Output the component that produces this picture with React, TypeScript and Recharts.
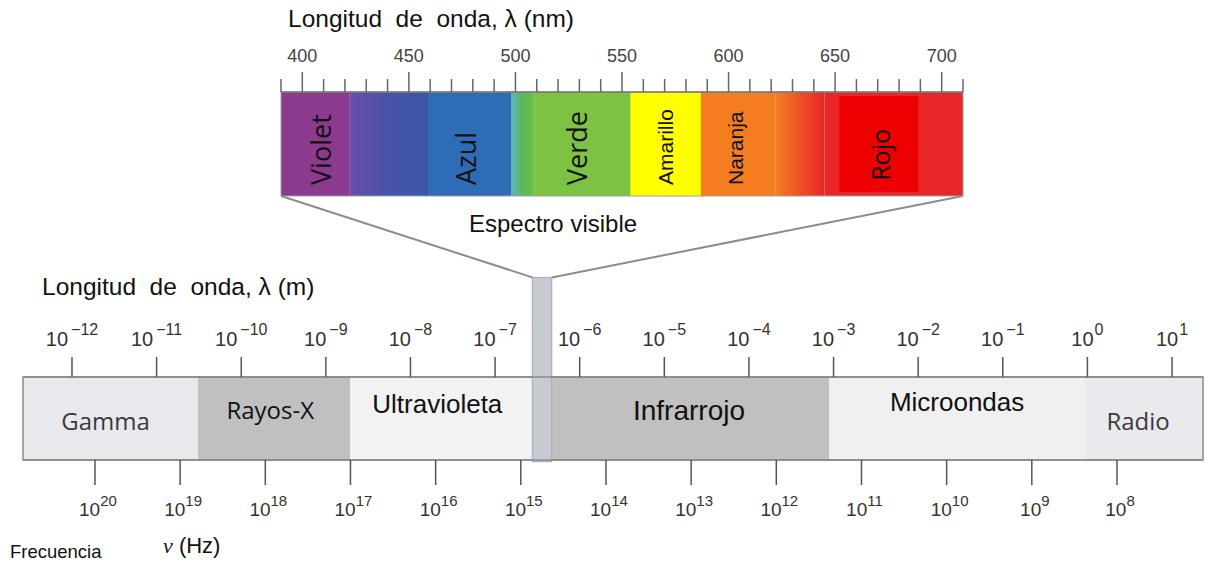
import React from "react";
import { ComposedChart, XAxis, YAxis, ReferenceArea, ReferenceLine, Scatter } from "recharts";

// Espectro electromagnético con ampliación del espectro visible.

// --- espectro visible (nm) ---
const nmTicks = [390, 400, 410, 420, 430, 440, 450, 460, 470, 480, 490, 500, 510, 520, 530, 540, 550, 560, 570, 580, 590, 600, 610, 620, 630, 640, 650, 660, 670, 680, 690, 700, 710];
const nmLabeled = [400, 450, 500, 550, 600, 650, 700];
const specEdges = [390, 422, 459, 498, 509, 554, 587, 622, 645, 710];
const specNames = ["Violet", "Azul", "Verde", "Amarillo", "Naranja", "Rojo"];
const specFrom = [390, 459, 509, 554, 587, 652];
const specTo = [422, 498, 554, 587, 622, 689];

// --- bandas, en log10(λ / m) ---
const bandNames = ["Gamma", "Rayos-X", "Ultravioleta", "Infrarrojo", "Microondas", "Radio"];
const bandFrom = [-12.58, -10.51, -8.71, -6.39, -3.05, -0.03];
const bandTo = [-10.51, -8.71, -6.49, -3.05, -0.03, 1.37];
const visibleLog = [-6.56, -6.33];
const wlTicks = [-12, -11, -10, -9, -8, -7, -6, -5, -4, -3, -2, -1, 0, 1];
// frecuencia, en log10(ν / Hz)
const freqTicks = [20, 19, 18, 17, 16, 15, 14, 13, 12, 11, 10, 9, 8];

// --- layout / estilos ---
const W = 1209;
const H = 565;
const SANS = "'Liberation Sans', Arial, sans-serif";
const OPEN = "'Open Sans', sans-serif";

const S_MARGIN = { top: 52, left: 281, right: 246, bottom: 369 };
const B_MARGIN = { top: 337, left: 23, right: 6, bottom: 45 };
const WL_DOMAIN: [number, number] = [-12.579, 1.366];
const FQ_DOMAIN: [number, number] = [6.99, 20.845];
const COLUMN_TOP = 2.2;

const segPaint = ["#8b3a8e", "url(#gVB)", "#2e6cb5", "url(#gBG)", "#7dc242", "#ffff00", "#f47d20", "url(#gOR)", "#e8262a"];
const specPaint: Record<string, string> = {
  Violet: "#8b3a8e",
  Azul: "#2e6cb5",
  Verde: "#7dc242",
  Amarillo: "#ffff00",
  Naranja: "#f47d20",
  Rojo: "#ee0000",
};
const specText: Record<string, { font: string; size: number; dx: number }> = {
  Violet: { font: OPEN, size: 27, dx: 5 },
  Azul: { font: OPEN, size: 27, dx: -4 },
  Verde: { font: OPEN, size: 27, dx: -6 },
  Amarillo: { font: SANS, size: 21, dx: 0 },
  Naranja: { font: SANS, size: 21, dx: -3 },
  Rojo: { font: OPEN, size: 25, dx: 1 },
};

const bandFill = ["#e9e9ed", "#c0c0c0", "#f2f2f2", "#c0c0c0", "#f0f0f0", "#e9e9ee"];
const bandText: Record<string, { font: string; size: number; color: string; dx: number; cy: number }> = {
  Gamma: { font: OPEN, size: 24, color: "#3a3a3a", dx: -5, cy: 45 },
  "Rayos-X": { font: OPEN, size: 24, color: "#111", dx: -4, cy: 34 },
  Ultravioleta: { font: SANS, size: 26, color: "#111", dx: -7, cy: 27 },
  Infrarrojo: { font: SANS, size: 28, color: "#111", dx: 1, cy: 33 },
  Microondas: { font: SANS, size: 26, color: "#111", dx: 0, cy: 25 },
  Radio: { font: OPEN, size: 24, color: "#3a3a3a", dx: -6, cy: 45 },
};

// puntos de anclaje para que cada eje tenga datos
const specData = specNames.map((n, i) => ({ nm: (specFrom[i] + specTo[i]) / 2, v: 0.5 }));
const bandData = bandNames.map((n, i) => ({ wl: (bandFrom[i] + bandTo[i]) / 2, v: 0.5 }));
const freqData = freqTicks.map((f) => ({ fq: f, v: 0.5 }));

function NmTick(props: any) {
  const { x, y, payload } = props;
  const major = nmLabeled.includes(payload.value);
  return (
    <g>
      <line x1={x} x2={x} y1={y} y2={y - (major ? 20 : 13)} stroke="#666" strokeWidth={1.5} />
      {major && (
        <text x={x} y={y - 30} textAnchor="middle" fontSize={18} fill="#444" fontFamily={SANS}>
          {payload.value}
        </text>
      )}
    </g>
  );
}

function WlTick(props: any) {
  const { x, y, payload } = props;
  const v = payload.value;
  const exp = v < 0 ? "\u2212" + Math.abs(v) : String(v);
  return (
    <g>
      <line x1={x} x2={x} y1={y} y2={y - 20} stroke="#555" strokeWidth={1.5} />
      <text x={x} y={y - 31} textAnchor="middle" fontSize={20} fill="#333" fontFamily={SANS}>
        10
        <tspan dx={v < 0 ? 3 : 1} dy={-11} fontSize={16}>
          {exp}
        </tspan>
      </text>
    </g>
  );
}

function FreqTick(props: any) {
  const { x, y, payload } = props;
  return (
    <g>
      <line x1={x} x2={x} y1={y} y2={y + 25} stroke="#555" strokeWidth={1.5} />
      <text x={x + 3} y={y + 56} textAnchor="middle" fontSize={19} fill="#333" fontFamily={SANS}>
        10
        <tspan dy={-10} fontSize={15}>
          {payload.value}
        </tspan>
      </text>
    </g>
  );
}

function SpecLabel(props: any) {
  const { viewBox, name } = props;
  const st = specText[name];
  const cx = viewBox.x + viewBox.width / 2 + st.dx;
  const by = viewBox.y + viewBox.height - 11;
  return (
    <text
      x={cx}
      y={by}
      transform={`rotate(-90, ${cx}, ${by})`}
      dominantBaseline="central"
      fontSize={st.size}
      fontFamily={st.font}
      fill="#111"
    >
      {name}
    </text>
  );
}

function BandLabel(props: any) {
  const { viewBox, name } = props;
  const st = bandText[name];
  const cx = viewBox.x + viewBox.width / 2 + st.dx;
  const cy = viewBox.y + st.cy;
  return (
    <text x={cx} y={cy + st.size * 0.35} textAnchor="middle" fontSize={st.size} fontFamily={st.font} fill={st.color}>
      {name}
    </text>
  );
}

function NmTitle(props: any) {
  const { viewBox } = props;
  return (
    <text x={viewBox.x + 7} y={viewBox.y - 25} fontSize={24.5} fontFamily={SANS} fill="#111" style={{ whiteSpace: "pre" }}>
      {"Longitud  de  onda, λ (nm)"}
    </text>
  );
}

function WlTitle(props: any) {
  const { viewBox } = props;
  return (
    <text x={viewBox.x + 19} y={viewBox.y - 42} fontSize={24.5} fontFamily={SANS} fill="#111" style={{ whiteSpace: "pre" }}>
      {"Longitud  de  onda, λ (m)"}
    </text>
  );
}

function FreqTitle(props: any) {
  const { viewBox } = props;
  const y = viewBox.y + viewBox.height + 38;
  return (
    <g>
      <text x={10} y={y} fontSize={18.5} fontFamily={SANS} fill="#111">
        Frecuencia
      </text>
      <text x={163} y={y - 5} fontSize={22} fontFamily={SANS} fill="#111">
        <tspan fontFamily="'Liberation Serif', serif" fontStyle="italic">
          ν
        </tspan>
        {" (Hz)"}
      </text>
    </g>
  );
}

function VisibleLabel(props: any) {
  const { viewBox } = props;
  return (
    <text x={viewBox.x + viewBox.width / 2 + 11} y={viewBox.y - 45} textAnchor="middle" fontSize={24} fontFamily={SANS} fill="#111">
      Espectro visible
    </text>
  );
}

const noShape = () => <g />;

function SpectrumChart() {
  return (
    <ComposedChart width={W} height={H} margin={S_MARGIN} data={specData}>
      <defs>
        <linearGradient id="gVB" x1="0" x2="1" y1="0" y2="0">
          <stop offset="0" stopColor="#6a4ea8" />
          <stop offset="0.5" stopColor="#4553a6" />
          <stop offset="1" stopColor="#3c56a6" />
        </linearGradient>
        <linearGradient id="gBG" x1="0" x2="1" y1="0" y2="0">
          <stop offset="0" stopColor="#5fb4bc" />
          <stop offset="0.5" stopColor="#5cb85a" />
          <stop offset="1" stopColor="#6ebf45" />
        </linearGradient>
        <linearGradient id="gOR" x1="0" x2="1" y1="0" y2="0">
          <stop offset="0" stopColor="#f47d20" />
          <stop offset="1" stopColor="#e8262a" />
        </linearGradient>
      </defs>
      <XAxis
        xAxisId="nm"
        dataKey="nm"
        type="number"
        orientation="top"
        domain={[390, 710]}
        allowDataOverflow
        ticks={nmTicks}
        interval={0}
        tick={NmTick}
        tickLine={false}
        tickSize={0}
        tickMargin={0}
        height={40}
        axisLine={{ stroke: "#777", strokeWidth: 1.5 }}
        label={<NmTitle />}
      />
      <YAxis yAxisId="y" dataKey="v" type="number" domain={[0, 1]} hide allowDataOverflow />
      {segPaint.map((p, i) => (
        <ReferenceArea
          key={"seg" + i}
          xAxisId="nm"
          yAxisId="y"
          x1={specEdges[i]}
          x2={specEdges[i + 1]}
          y1={0}
          y2={1}
          fill={p}
          fillOpacity={1}
          ifOverflow="visible"
        />
      ))}
      {specNames.map((n, i) => (
        <ReferenceArea
          key={n}
          xAxisId="nm"
          yAxisId="y"
          x1={specFrom[i]}
          x2={specTo[i]}
          y1={n === "Rojo" ? 0.04 : 0}
          y2={n === "Rojo" ? 0.96 : 1}
          fill={specPaint[n]}
          fillOpacity={1}
          ifOverflow="visible"
          label={<SpecLabel name={n} />}
        />
      ))}
      <ReferenceArea
        xAxisId="nm"
        yAxisId="y"
        x1={390}
        x2={710}
        y1={0}
        y2={1}
        fill="none"
        stroke="#a0a0a0"
        strokeWidth={1}
        ifOverflow="visible"
      />
      <Scatter xAxisId="nm" yAxisId="y" dataKey="v" shape={noShape} isAnimationActive={false} />
    </ComposedChart>
  );
}

function BandsChart() {
  const plotW = W - B_MARGIN.left - B_MARGIN.right;
  const plotBottom = H - B_MARGIN.bottom - 60;
  const plotH = plotBottom - (B_MARGIN.top + 40);
  const toWl = (px: number) => WL_DOMAIN[0] + ((px - B_MARGIN.left) * (WL_DOMAIN[1] - WL_DOMAIN[0])) / plotW;
  const funnelY = (plotBottom - (H - S_MARGIN.bottom)) / plotH;
  const specLeft = toWl(S_MARGIN.left);
  const specRight = toWl(W - S_MARGIN.right);
  return (
    <ComposedChart width={W} height={H} margin={B_MARGIN} data={bandData}>
      <XAxis
        xAxisId="wl"
        dataKey="wl"
        type="number"
        orientation="top"
        domain={WL_DOMAIN}
        allowDataOverflow
        ticks={wlTicks}
        interval={0}
        tick={WlTick}
        tickLine={false}
        tickSize={0}
        tickMargin={0}
        height={40}
        axisLine={{ stroke: "#888", strokeWidth: 1.5 }}
        label={<WlTitle />}
      />
      <XAxis
        xAxisId="fq"
        dataKey="fq"
        type="number"
        orientation="bottom"
        domain={FQ_DOMAIN}
        reversed
        allowDataOverflow
        ticks={freqTicks}
        interval={0}
        tick={FreqTick}
        tickLine={false}
        tickSize={0}
        tickMargin={0}
        height={60}
        axisLine={{ stroke: "#888", strokeWidth: 1.5 }}
        label={<FreqTitle />}
      />
      <YAxis yAxisId="y" dataKey="v" type="number" domain={[0, 1]} hide allowDataOverflow />
      {bandNames.map((n, i) => (
        <ReferenceArea
          key={n}
          xAxisId="wl"
          yAxisId="y"
          x1={bandFrom[i]}
          x2={bandTo[i]}
          y1={0}
          y2={1}
          fill={bandFill[i]}
          fillOpacity={1}
          ifOverflow="visible"
          label={<BandLabel name={n} />}
        />
      ))}
      <ReferenceArea
        xAxisId="wl"
        yAxisId="y"
        x1={WL_DOMAIN[0]}
        x2={WL_DOMAIN[1]}
        y1={0}
        y2={1}
        fill="none"
        stroke="#8a8a8a"
        strokeWidth={1.5}
        ifOverflow="visible"
      />
      <ReferenceLine
        xAxisId="wl"
        yAxisId="y"
        segment={[
          { x: specLeft, y: funnelY },
          { x: visibleLog[0], y: COLUMN_TOP },
        ]}
        stroke="#8c8c8c"
        strokeWidth={2}
        ifOverflow="visible"
      />
      <ReferenceLine
        xAxisId="wl"
        yAxisId="y"
        segment={[
          { x: specRight, y: funnelY },
          { x: visibleLog[1], y: COLUMN_TOP },
        ]}
        stroke="#8c8c8c"
        strokeWidth={2}
        ifOverflow="visible"
      />
      <ReferenceArea
        xAxisId="wl"
        yAxisId="y"
        x1={visibleLog[0]}
        x2={visibleLog[1]}
        y1={-0.02}
        y2={COLUMN_TOP}
        fill="#c6cad3"
        fillOpacity={1}
        stroke="#a3a7b0"
        strokeWidth={1}
        ifOverflow="visible"
        label={<VisibleLabel />}
      />
      <Scatter xAxisId="wl" yAxisId="y" dataKey="v" shape={noShape} isAnimationActive={false} />
      <Scatter xAxisId="fq" yAxisId="y" data={freqData} dataKey="v" shape={noShape} isAnimationActive={false} />
    </ComposedChart>
  );
}

export default function App() {
  return (
    <div style={{ position: "absolute", left: 0, top: 0, width: W, height: H, background: "#fff", fontFamily: SANS }}>
      <div style={{ position: "absolute", left: 0, top: 0 }}>
        <BandsChart />
      </div>
      <div style={{ position: "absolute", left: 0, top: 0 }}>
        <SpectrumChart />
      </div>
    </div>
  );
}
